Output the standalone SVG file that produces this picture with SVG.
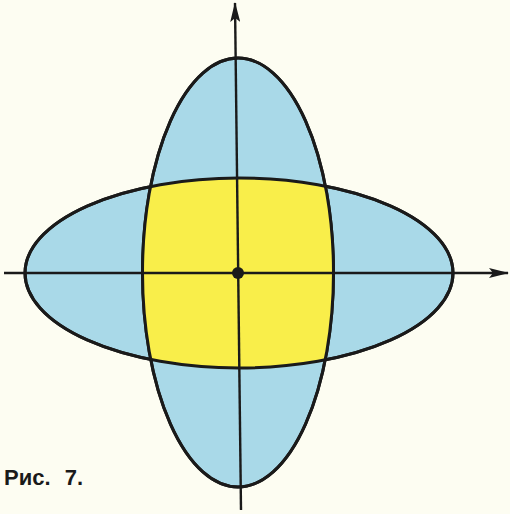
<svg xmlns="http://www.w3.org/2000/svg" width="510" height="514" viewBox="0 0 510 514">
<style>
.ell{fill:#a9d9e8;stroke:#1a1a1a;stroke-width:3}
.edge{fill:none;stroke:#1a1a1a;stroke-width:3}
.axis{stroke:#1a1a1a;stroke-width:2.4;fill:none}
.lbl{font-family:"Liberation Sans",Arial,sans-serif;font-weight:bold;font-size:22px;fill:#1a1a1a}
</style>
<defs>
<clipPath id="hclip"><ellipse cx="239" cy="273" rx="214" ry="95"/></clipPath>
<marker id="arr" viewBox="0 0 20 10" refX="19" refY="5" markerWidth="20" markerHeight="10" markerUnits="userSpaceOnUse" orient="auto">
<path d="M0,0 L20,5 L0,10 L4,5 Z" fill="#1a1a1a"/>
</marker>
</defs>
<rect width="510" height="514" fill="#fdfdf2"/>
<g id="horizontal-ellipse"><ellipse class="ell" cx="239" cy="273" rx="214" ry="95"/></g>
<g id="vertical-ellipse"><ellipse class="ell" cx="238" cy="272.5" rx="95.5" ry="214.5"/></g>
<g id="intersection">
<ellipse cx="238" cy="272.5" rx="95.5" ry="214.5" fill="#f9ee4a" clip-path="url(#hclip)"/>
<ellipse class="edge" cx="239" cy="273" rx="214" ry="95"/>
<ellipse class="edge" cx="238" cy="272.5" rx="95.5" ry="214.5"/>
</g>
<g id="axes">
<line class="axis" x1="4" y1="273" x2="508" y2="273" marker-end="url(#arr)"/>
<line class="axis" x1="241" y1="510" x2="235" y2="3" marker-end="url(#arr)"/>
</g>
<g id="origin"><circle cx="238" cy="273" r="6" fill="#1a1a1a"/></g>
<g id="caption"><text class="lbl" x="4" y="485" word-spacing="8">Рис. 7.</text></g>
</svg>
